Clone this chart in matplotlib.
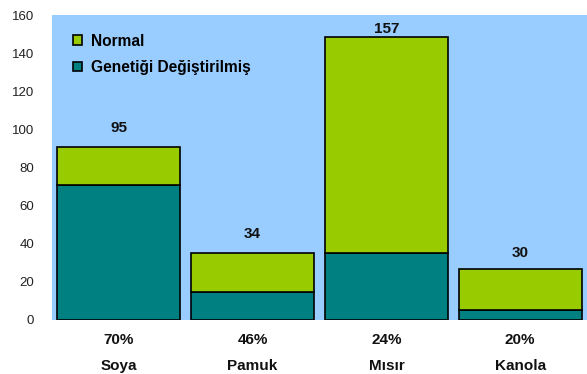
import matplotlib
matplotlib.use("Agg")
import matplotlib.pyplot as plt
from matplotlib.patches import Patch
import matplotlib.transforms as mtransforms

plt.rcParams['font.family'] = ['Liberation Sans', 'DejaVu Sans']

categories = ["Soya", "Pamuk", "Mısır", "Kanola"]
gm_values = [71, 14.5, 35, 5.5]
normal_values = [20, 20.5, 113.5, 21.5]
total_labels = ["95", "34", "157", "30"]
pct_labels = ["70%", "46%", "24%", "20%"]
series_names = ["Normal", "Genetiği Değiştirilmiş"]

green = "#99CC00"
teal = "#008080"
bg = "#99CCFF"

fig = plt.figure(figsize=(5.87, 3.74), dpi=100)
ax = fig.add_axes([52/587, 54/374, 535/587, 305/374])
ax.set_facecolor(bg)

x = list(range(len(categories)))
w = 0.92
ax.bar(x, gm_values, width=w, color=teal, edgecolor="black", linewidth=1.2, zorder=3)
ax.bar(x, normal_values, width=w, bottom=gm_values, color=green, edgecolor="black", linewidth=1.2, zorder=3)

offsets = [8, 9, 1, 6.5]
for i, lab in enumerate(total_labels):
    top = gm_values[i] + normal_values[i]
    ax.annotate(lab, (x[i], top), xytext=(0, offsets[i]), textcoords="offset points",
                ha="center", va="bottom", fontsize=11, fontweight="bold", color="#111111",
                annotation_clip=False)

ax.set_xlim(-0.5, 3.5)
ax.set_ylim(0, 160)
ax.set_yticks(range(0, 161, 20))
ax.tick_params(axis="y", length=0, labelsize=9.5, pad=13, colors="#222222")
ax.set_xticks([])
for s in ax.spines.values():
    s.set_visible(False)

trans = mtransforms.blended_transform_factory(ax.transData, ax.transAxes)
for i in x:
    ax.text(x[i], -20/305, pct_labels[i], transform=trans, ha="center", va="center",
            fontsize=11, fontweight="bold", color="#111111")
    ax.text(x[i], -46/305, categories[i], transform=trans, ha="center", va="center",
            fontsize=11, fontweight="bold", color="#111111")

handles = [Patch(facecolor=green, edgecolor="black", linewidth=1.2),
           Patch(facecolor=teal, edgecolor="black", linewidth=1.2)]
ax.legend(handles, series_names, loc="upper left", bbox_to_anchor=(0.014, 0.985),
          frameon=False, prop={"weight": "bold", "size": 11.2}, handlelength=0.55,
          handleheight=0.55, labelspacing=0.75, handletextpad=0.55)

fig.savefig("out.png", dpi=100, facecolor="white")
